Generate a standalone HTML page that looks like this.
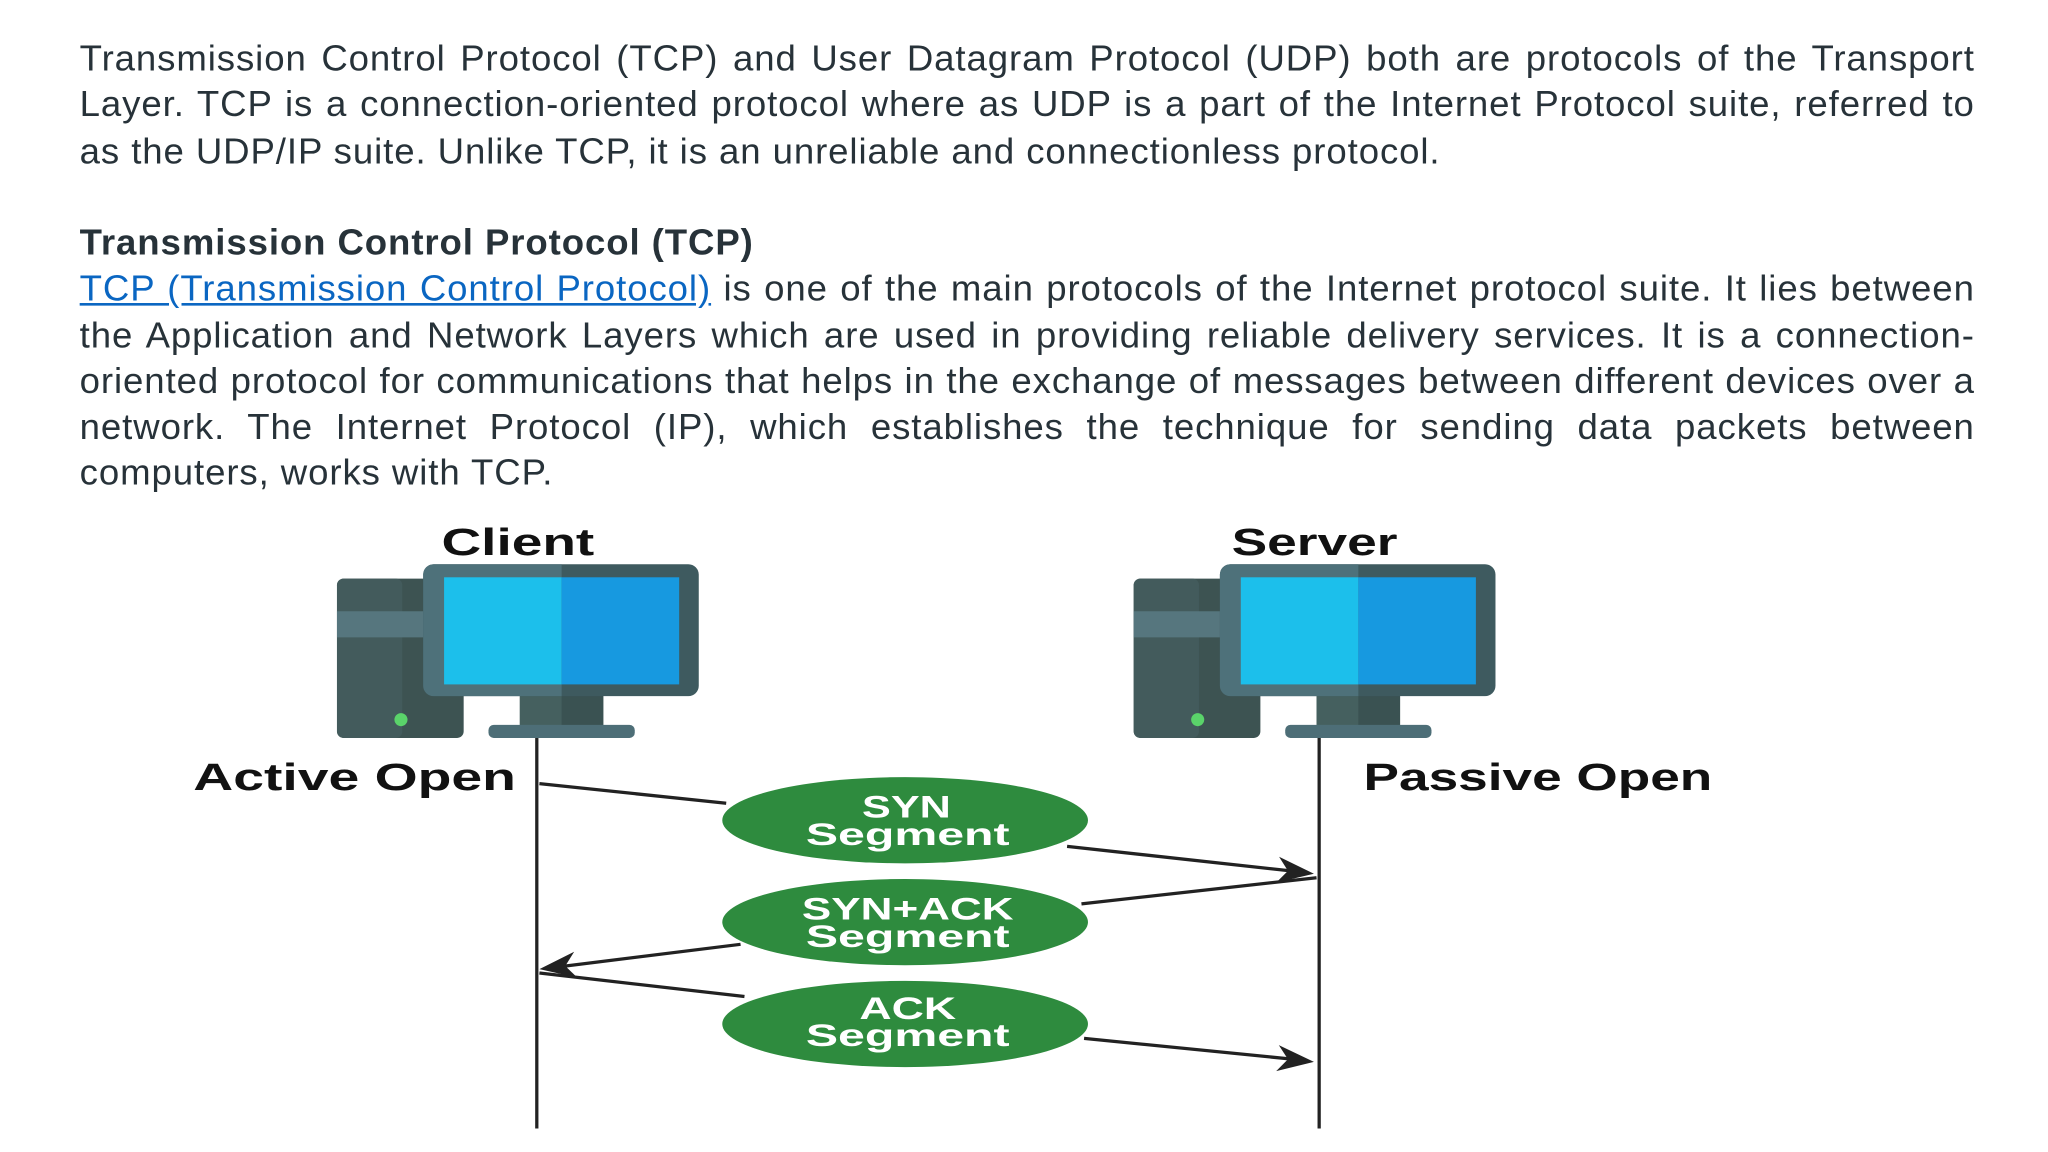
<!DOCTYPE html>
<html><head><meta charset="utf-8"><style>
html,body{margin:0;padding:0;background:#fff;width:2048px;height:1152px;overflow:hidden}
#w{position:absolute;left:0;top:0;width:1568px;height:882px;transform:scale(1.3061);transform-origin:0 0}
.p{position:absolute;left:61px;width:1451px;font-family:"Liberation Sans",Arial,sans-serif;font-size:28px;letter-spacing:0.7px;line-height:35.3px;color:#273239;text-align:justify;margin:0}
a{color:#0a66c2;text-decoration:underline}
</style></head><body><div id="w">
<p class="p" style="top:27px">Transmission Control Protocol (TCP) and User Datagram Protocol (UDP) both are protocols of the Transport Layer. TCP is a connection-oriented protocol where as UDP is a part of the Internet Protocol suite, referred to as the UDP/IP suite. Unlike TCP, it is an unreliable and connectionless protocol.</p>
<p class="p" style="top:168px"><b>Transmission Control Protocol (TCP)</b><br><a>TCP (Transmission Control Protocol)</a> is one of the main protocols of the Internet protocol suite. It lies between the Application and Network Layers which are used in providing reliable delivery services. It is a connection-oriented protocol for communications that helps in the exchange of messages between different devices over a network. The Internet Protocol (IP), which establishes the technique for sending data packets between computers, works with TCP.</p>
<svg style="position:absolute;left:0;top:0" width="1568" height="882" font-family="Liberation Sans,Arial,sans-serif">
<defs>
<g id="pc">
<rect x="258" y="443" width="97" height="122" rx="5" fill="#3d5352"/>
<rect x="258" y="443" width="50" height="122" rx="5" fill="#435b5c"/>
<rect x="258" y="468" width="70" height="20" fill="#56767e"/>
<circle cx="307" cy="551" r="5" fill="#5ad36a"/>
<rect x="398" y="530" width="64" height="28" fill="#3a5252"/>
<rect x="398" y="530" width="32" height="28" fill="#45605f"/>
<rect x="374" y="555" width="112" height="10" rx="4" fill="#4d6e77"/>
<rect x="324" y="432" width="211" height="101" rx="8" fill="#3e5a5f"/>
<path d="M332 432h98v101h-98a8 8 0 0 1-8-8v-85a8 8 0 0 1 8-8z" fill="#4e717a"/>
<rect x="340" y="442" width="90" height="82" fill="#1cbfeb"/>
<rect x="430" y="442" width="90" height="82" fill="#1799e0"/>
</g>
</defs>
<use href="#pc"/>
<use href="#pc" x="610"/>
<g font-weight="bold" font-size="29" fill="#111">
<text x="338" y="425" textLength="117" lengthAdjust="spacingAndGlyphs">Client</text>
<text x="943" y="425" textLength="127" lengthAdjust="spacingAndGlyphs">Server</text>
<text x="148" y="605" textLength="247" lengthAdjust="spacingAndGlyphs">Active Open</text>
<text x="1044" y="605" textLength="267" lengthAdjust="spacingAndGlyphs">Passive Open</text>
</g>
<line x1="411" y1="565" x2="411" y2="864" stroke="#222" stroke-width="2.5"/>
<line x1="1010" y1="565" x2="1010" y2="864" stroke="#222" stroke-width="2.5"/>
<g stroke="#222" stroke-width="2.5" fill="none">
<line x1="413" y1="600" x2="556" y2="615"/>
<line x1="817" y1="648" x2="990" y2="667"/>
<line x1="1008" y1="672" x2="828" y2="692"/>
<line x1="567" y1="723" x2="430" y2="740"/>
<line x1="413" y1="745" x2="570" y2="763"/>
<line x1="830" y1="795" x2="990" y2="811"/>
</g>
<g fill="#222">
<polygon points="1006,669 977.1,675.8 986.1,666.8 979.3,656"/>
<polygon points="413,742 442,748.5 432.8,739.6 439.6,728.7"/>
<polygon points="1006,813 977.1,820.1 986.1,811 979.1,800.2"/>
</g>
<g fill="#2e8b3e">
<ellipse cx="693" cy="628" rx="140" ry="33"/>
<ellipse cx="693" cy="706" rx="140" ry="33"/>
<ellipse cx="693" cy="784" rx="140" ry="33"/>
</g>
<g fill="#fff" font-weight="bold" font-size="24">
<text x="660" y="626" textLength="68" lengthAdjust="spacingAndGlyphs">SYN</text>
<text x="617" y="647" textLength="156" lengthAdjust="spacingAndGlyphs">Segment</text>
<text x="614" y="704" textLength="162" lengthAdjust="spacingAndGlyphs">SYN+ACK</text>
<text x="617" y="725" textLength="156" lengthAdjust="spacingAndGlyphs">Segment</text>
<text x="658" y="780" textLength="74" lengthAdjust="spacingAndGlyphs">ACK</text>
<text x="617" y="801" textLength="156" lengthAdjust="spacingAndGlyphs">Segment</text>
</g>
</svg>
</div></body></html>
